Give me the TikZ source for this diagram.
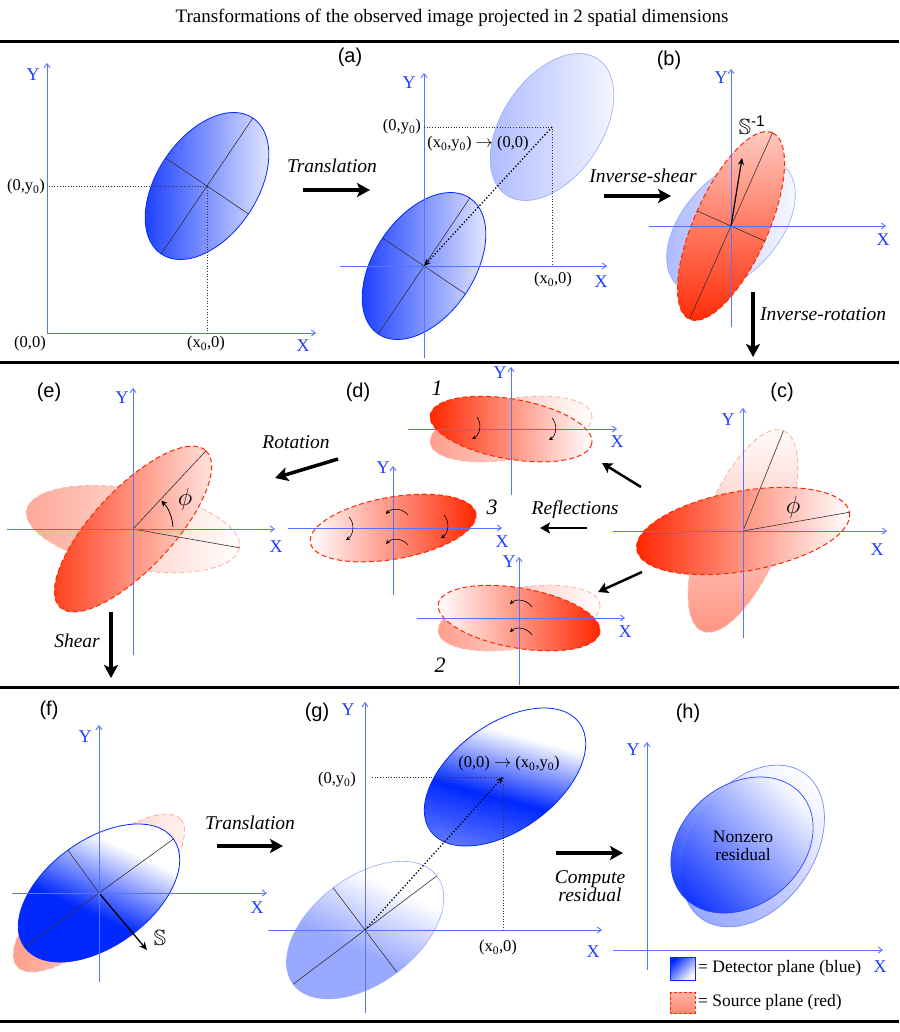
\documentclass[tikz,border=0pt]{standalone}
\usepackage{fontspec}
\usepackage{amssymb}
\setmainfont{Liberation Serif}
\newfontfamily\lsans{Liberation Sans}
\usetikzlibrary{arrows.meta,calc}
\definecolor{rd}{RGB}{255,38,0}
\definecolor{bl}{RGB}{0,40,255}
\definecolor{axb}{RGB}{85,115,255}
\definecolor{labb}{RGB}{30,60,255}
\pgfdeclareverticalshading{fshade}{100bp}{color(0bp)=(bl); color(25bp)=(bl); color(44bp)=(bl); color(64bp)=(white); color(100bp)=(white)}
\pgfdeclareverticalshading{gshade}{100bp}{color(0bp)=(bl!55); color(25bp)=(bl!55); color(44bp)=(bl); color(62bp)=(white); color(100bp)=(white)}
\newcommand\myEll[6]{%
 \begin{scope}
 \clip[rotate around={#4:(#1)}] (#1) ellipse [x radius=#2, y radius=#3];
 \shade[#5] ($(#1)+(-#2,-#2)$) rectangle ($(#1)+(#2,#2)$);
 \end{scope}
 \draw[rotate around={#4:(#1)},#6] (#1) ellipse [x radius=#2, y radius=#3];}
\tikzset{
 ax/.style={draw=axb, line width=0.9pt, -{Straight Barb[length=4pt,width=6pt]}},
 axl/.style={text=labb, font=\fontsize{18}{20}\selectfont, inner sep=0pt},
 crd/.style={font=\fontsize{16.5}{18}\selectfont, inner sep=0pt},
 plab/.style={font=\lsans\fontsize{20}{22}\selectfont, inner sep=0pt},
 itl/.style={font=\itshape\fontsize{19.5}{22}\selectfont, inner sep=0pt},
 big/.style={line width=3.5pt, -{Stealth[length=13pt,width=14pt,inset=3pt]}},
 med/.style={line width=2.5pt, -{Stealth[length=10pt,width=11pt,inset=2pt]}},
 mid/.style={line width=0.6pt, draw=black!80},
 dot/.style={dotted, line width=0.7pt, black!80},
 dotarr/.style={dotted, line width=1.3pt, -{Stealth[length=7pt,width=6pt]}},
 carr/.style={line width=0.6pt, -{Stealth[length=4pt,width=4pt]}},
 rdash/.style={draw=rd, line width=1pt, dash pattern=on 5pt off 3pt},
 fdash/.style={draw=rd!35, line width=0.9pt, dash pattern=on 5pt off 3pt},
 bline/.style={draw=bl, line width=0.8pt},
 fline/.style={draw=bl!40, line width=0.6pt},
 num/.style={font=\itshape\fontsize{22}{24}\selectfont, inner sep=0pt},
 phil/.style={font=\fontsize{26}{28}\selectfont, inner sep=0pt}
}
\begin{document}
\begin{tikzpicture}[x=1pt,y=-1pt]
\useasboundingbox (0,0) rectangle (899,1032);
\fill[white] (0,0) rectangle (899,1032);
\node[font=\fontsize{19}{22}\selectfont] (title) at (452,18) {Transformations of the observed image projected in 2 spatial dimensions};
\foreach \yy in {41.5,362.5,687,1021} \draw[line width=3pt] (0,\yy) -- (899,\yy);

% ---------- panel 1
\coordinate (A0) at (47,333);
\coordinate (P0) at (207,186);
\myEll{P0}{82}{50}{56}{left color=bl,right color=white}{bline}
\draw[mid] ($(P0)+(-56:82)$) -- ($(P0)+(124:82)$);
\draw[mid] ($(P0)+(-146:50)$) -- ($(P0)+(34:50)$);
\draw[dot] (49,186) -- (P0) -- (207,333);
\draw[ax] (A0) -- (47,63);
\draw[ax] (A0) -- (316,333);
\node[axl] (y0) at (33,75) {Y};
\node[axl] (x0) at (303,346) {X};
\node[crd] (c00) at (30,344) {(0,0)};
\node[crd] (cx0) at (206,344) {(x\textsubscript{0},0)};
\node[crd] (cy0) at (26,187) {(0,y\textsubscript{0})};
\node[itl] (tr1) at (332,166) {Translation};
\draw[big] (303,190) -- (370,190);

% ---------- panel a
\coordinate (Oa) at (424,266);
\coordinate (Pa) at (552,127);
\myEll{Pa}{82}{50}{56}{left color=bl,right color=white,fill opacity=0.35}{fline}
\myEll{Oa}{82}{50}{56}{left color=bl,right color=white}{bline}
\draw[mid] ($(Oa)+(-56:82)$) -- ($(Oa)+(124:82)$);
\draw[mid] ($(Oa)+(-146:50)$) -- ($(Oa)+(34:50)$);
\draw[ax] (424,358) -- (424,73);
\draw[ax] (340,266) -- (607,266);
\draw[dot] (424,127) -- (Pa) -- (552,266);
\draw[dotarr] (Pa) -- (Oa);
\node[plab] (la) at (350,57) {(a)};
\node[axl] (ya) at (409,83) {Y};
\node[axl] (xa) at (601,282) {X};
\node[crd,anchor=east] (cya) at (421,127) {(0,y\textsubscript{0})};
\node[crd] (cxya) at (478,144) {(x\textsubscript{0},y\textsubscript{0}) $\rightarrow$ (0,0)};
\node[crd] (cxa) at (553,280) {(x\textsubscript{0},0)};
\node[itl] (ish) at (643,176) {Inverse-shear};
\draw[big] (604,196) -- (671,196);

% ---------- panel b
\coordinate (Ob) at (731,226);
\myEll{Ob}{80}{48}{48}{left color=bl,right color=white,fill opacity=0.35}{fline}
\myEll{Ob}{102}{37}{66}{top color=rd!22,bottom color=rd}{rdash}
\draw[mid] ($(Ob)+(-66:102)$) -- ($(Ob)+(114:102)$);
\draw[mid] ($(Ob)+(-156:37)$) -- ($(Ob)+(24:37)$);
\draw[ax] (731,327) -- (731,69);
\draw[ax] (649,226) -- (886,226);
\draw[line width=1.2pt,-{Stealth[length=7pt,width=6pt]}] (Ob) -- (742,158);
\node[plab] (lb) at (669,60) {(b)};
\node[axl] (yb) at (721,78) {Y};
\node[axl] (xb) at (883,240) {X};
\node[inner sep=0pt,font=\fontsize{22}{24}\selectfont] (sinv) at (752,125) {$\mathbb{S}$\lsans\textsuperscript{-1}};
\node[itl] (irot) at (823,314) {Inverse-rotation};
\draw[big] (753,292) -- (753,357);

% ---------- panel c
\coordinate (Oc) at (743,531);
\myEll{Oc}{108}{40}{68}{top color=white,bottom color=rd,fill opacity=0.5}{fdash}
\myEll{Oc}{108}{40}{10}{left color=rd,right color=white}{rdash}
\draw[mid] (Oc) -- ($(Oc)+(-68:108)$);
\draw[mid] (Oc) -- ($(Oc)+(-10:108)$);
\draw[ax] (743,638) -- (743,408);
\draw[ax] (613,531) -- (887,531);
\node[plab] (lc) at (782,392) {(c)};
\node[axl] (yc) at (728,420) {Y};
\node[axl] (xc) at (877,550) {X};
\node[phil] (phic) at (793,507) {$\phi$};

% ---------- panel d
\node[plab] (ld) at (358,392) {(d)};
% sub 1
\coordinate (O1) at (511,429);
\myEll{O1}{82}{30}{10}{left color=rd!45,right color=white}{fdash}
\myEll{O1}{82}{30}{-10}{left color=rd,right color=white}{rdash}
\draw[ax] (511,495) -- (511,367);
\draw[ax] (408,429) -- (617,429);
\node[axl] (y1) at (500,373) {Y};
\node[axl] (x1) at (617,442) {X};
\node[num] (n1) at (437,388) {1};
\draw[carr] (477,417) to[bend left=50] (472,439);
\draw[carr] (552,418) to[bend left=50] (549,440);
% sub 3
\coordinate (O3) at (393,528);
\myEll{O3}{84}{31}{10}{left color=white,right color=rd}{rdash}
\draw[ax] (393,595) -- (393,466);
\draw[ax] (288,528) -- (502,528);
\node[axl] (y3) at (383,468) {Y};
\node[axl] (x3) at (502,542) {X};
\node[num] (n3) at (492,507) {3};
\draw[carr] (349,517) to[bend left=50] (346,540);
\draw[carr] (444,515) to[bend left=50] (441,538);
\draw[carr] (408,515) to[bend right=50] (386,514);
\draw[carr] (408,545) to[bend right=50] (386,544);
% sub 2
\coordinate (O2) at (519,618);
\myEll{O2}{82}{30}{10}{left color=rd!45,right color=white}{fdash}
\myEll{O2}{82}{30}{-10}{left color=white,right color=rd}{rdash}
\draw[ax] (519,685) -- (519,557);
\draw[ax] (417,618) -- (625,618);
\node[axl] (y2) at (509,562) {Y};
\node[axl] (x2) at (625,632) {X};
\node[num] (n2) at (440,665) {2};
\draw[carr] (532,607) to[bend right=50] (510,604);
\draw[carr] (532,635) to[bend right=50] (510,632);
% reflections
\node[itl] (refl) at (575,510) {Reflections};
\draw[med] (587,528) -- (540,528);
\draw[med] (641,487) -- (602,463);
\draw[med] (642,572) -- (598,592);
\node[itl] (rot) at (296,442) {Rotation};
\draw[big] (338,459) -- (275,478);

% ---------- panel e
\coordinate (Oe) at (133,529);
\myEll{Oe}{108}{40}{-10}{left color=rd,right color=white,fill opacity=0.4}{fdash}
\myEll{Oe}{107}{40}{47}{left color=rd,right color=white}{rdash}
\draw[mid] (Oe) -- ($(Oe)+(-47:107)$);
\draw[mid] (Oe) -- ($(Oe)+(10:108)$);
\draw[line width=0.8pt,-{Stealth[length=6pt,width=6pt]}] ($(Oe)+(-3:40)$) arc[start angle=-3,end angle=-45,radius=40];
\draw[ax] (133,655) -- (133,388);
\draw[ax] (7,529) -- (275,529);
\node[plab] (le) at (49,392) {(e)};
\node[axl] (ye) at (122,398) {Y};
\node[axl] (xe) at (276,547) {X};
\node[phil] (phie) at (185,499) {$\phi$};
\node[itl] (sh) at (77,641) {Shear};
\draw[big] (111,612) -- (111,678);

% ---------- panel f
\coordinate (Of) at (99,893);
\myEll{Of}{110}{38}{42}{left color=rd!50,right color=white}{fdash}
\myEll{Of}{92}{53}{36}{shading=fshade,shading angle=-25}{bline}
\draw[mid] ($(Of)+(-36:92)$) -- ($(Of)+(144:92)$);
\draw[mid] (Of) -- ($(Of)+(-126:53)$);
\draw[line width=1.3pt,-{Stealth[length=8pt,width=7pt]}] (Of) -- (147,950);
\draw[ax] (99,982) -- (99,725);
\draw[ax] (12,893) -- (267,893);
\node[plab] (lf) at (49,710) {(f)};
\node[axl] (yf) at (85,737) {Y};
\node[axl] (xf) at (257,908) {X};
\node[inner sep=0pt,font=\fontsize{22}{24}\selectfont] (sS) at (160,938) {$\mathbb{S}$};
\node[itl] (tr2) at (250,823) {Translation};
\draw[big] (217,846) -- (283,846);

% ---------- panel g
\coordinate (Og) at (365,930);
\coordinate (Pg) at (505,777);
\myEll{Og}{90}{53}{37}{shading=fshade,shading angle=-25,fill opacity=0.4}{fline}
\myEll{Pg}{92}{53}{36}{shading=gshade,shading angle=-15}{bline}
\draw[mid] ($(Og)+(-37:90)$) -- ($(Og)+(143:90)$);
\draw[mid] ($(Og)+(-127:53)$) -- ($(Og)+(53:53)$);
\draw[ax] (365,1013) -- (365,702);
\draw[ax] (268,930) -- (602,930);
\draw[dot] (372,777) -- (503,777) -- (503,930);
\draw[dotarr] (Og) -- (503,777);
\node[plab] (lg) at (317,712) {(g)};
\node[axl] (yg) at (348,710) {Y};
\node[axl] (xg) at (593,952) {X};
\node[crd] (cyg) at (337,780) {(0,y\textsubscript{0})};
\node[crd] (cxyg) at (509,764) {(0,0) $\rightarrow$ (x\textsubscript{0},y\textsubscript{0})};
\node[crd] (cxg) at (498,948) {(x\textsubscript{0},0)};
\node[itl,align=center,font=\itshape\fontsize{19.5}{18}\selectfont] (cres) at (590,886) {Compute\\residual};
\draw[big] (556,853) -- (623,853);

% ---------- panel h
\coordinate (Oh1) at (753,846);
\coordinate (Oh2) at (742,845);
\myEll{Oh1}{89}{61}{55}{top color=white,bottom color=bl,shading angle=-40,fill opacity=0.4}{draw=bl!55,line width=0.7pt}
\myEll{Oh2}{78}{60}{40}{top color=white,bottom color=bl,shading angle=-45,fill opacity=0.9}{draw=bl!85,line width=0.7pt}
\draw[ax] (647,970) -- (647,742);
\draw[ax] (613,950) -- (883,950);
\node[plab] (lh) at (688,713) {(h)};
\node[axl] (yh) at (633,750) {Y};
\node[axl] (xh) at (880,967) {X};
\node[align=center,font=\fontsize{17.5}{18}\selectfont,inner sep=0pt] (nz) at (743,846) {Nonzero\\residual};
\shade[top color=bl,bottom color=white,shading angle=45,draw=bl,line width=0.8pt] (670,957) rectangle (695,980);
\shade[top color=rd!35,bottom color=rd!55,draw=rd,line width=0.8pt,dash pattern=on 3pt off 2pt] (670,992) rectangle (695,1013);
\node[anchor=west,font=\fontsize{17.5}{20}\selectfont,inner sep=0pt] (leg1) at (698,968) {= Detector plane (blue)};
\node[anchor=west,font=\fontsize{17.5}{20}\selectfont,inner sep=0pt] (leg2) at (698,1002) {= Source plane (red)};
\end{tikzpicture}
\end{document}
